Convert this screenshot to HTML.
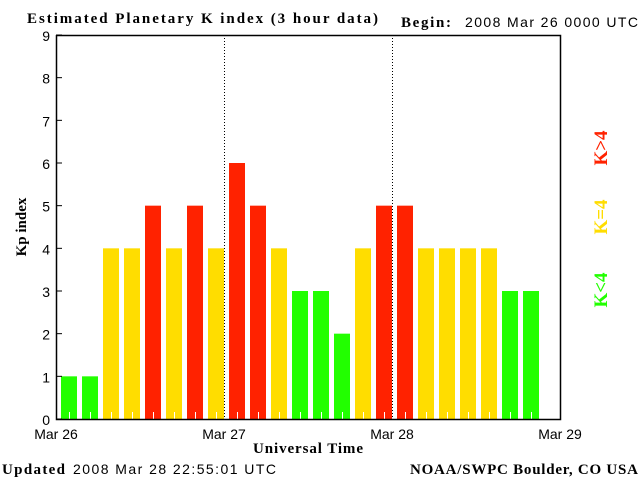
<!DOCTYPE html>
<html><head><meta charset="utf-8"><style>
body{margin:0;background:#fff;width:640px;height:480px;overflow:hidden}
svg{display:block}
.s{font-family:"Liberation Sans",sans-serif;font-size:14px;fill:#000}
.b{font-family:"Liberation Serif",serif;font-weight:bold;font-size:15px;fill:#000}
</style></head><body>
<svg id="c" width="640" height="480">
<text class="b" x="27" y="23" textLength="351" lengthAdjust="spacing">Estimated Planetary K index (3 hour data)</text>
<text class="b" x="401" y="27" textLength="50">Begin:</text>
<text class="s" x="465" y="27" textLength="173">2008 Mar 26 0000 UTC</text>
<text class="b" transform="translate(26,227) rotate(-90)" text-anchor="middle">Kp index</text>
<text class="b" x="253" y="453" textLength="110">Universal Time</text>
<text class="b" x="2" y="474" textLength="63">Updated</text>
<text class="s" x="73" y="474" textLength="203">2008 Mar 28 22:55:01 UTC</text>
<text class="b" x="410" y="474" textLength="228">NOAA/SWPC Boulder, CO USA</text>
<text class="b" transform="translate(607,148) rotate(-90)" text-anchor="middle" style="fill:#ff2200;font-size:19px">K&gt;4</text>
<text class="b" transform="translate(607,217) rotate(-90)" text-anchor="middle" style="fill:#ffdd00;font-size:19px">K=4</text>
<text class="b" transform="translate(607,290) rotate(-90)" text-anchor="middle" style="fill:#22ff00;font-size:19px">K&lt;4</text>
<g id="bars"></g>
<g id="axes"></g>
</svg>
<script>
const kpValues=[1,1,4,4,5,4,5,4,6,5,4,3,3,2,4,5,5,4,4,4,4,3,3];
const yTicks=[0,1,2,3,4,5,6,7,8,9];
const dayLabels=["Mar 26","Mar 27","Mar 28","Mar 29"];
const X0=56,X1=560,Y0=419,Y1=35,SLOTS=24;
const ns="http://www.w3.org/2000/svg";
function xs(i){return X0+(X1-X0)*i/SLOTS;}
function ys(v){return Y0-(Y0-Y1)*v/9;}
function mk(t,a,p){const e=document.createElementNS(ns,t);for(const k in a)e.setAttribute(k,a[k]);p.appendChild(e);return e;}
const bars=document.getElementById('bars'),axes=document.getElementById('axes');
kpValues.forEach((v,i)=>{
 const col=v<4?'#22ff00':(v===4?'#ffdd00':'#ff2200');
 const r=mk('rect',{x:xs(i)+5,y:ys(v),width:16,height:Y0-ys(v),fill:col},bars);
 
 
 const t=mk('line',{x1:xs(i)+13.5,x2:xs(i)+13.5,y1:Y0-7,y2:Y0,stroke:'#fff','stroke-width':1},bars);
 
 
});
[1,2].forEach(d=>{
 const l=mk('line',{x1:xs(d*8)+.5,x2:xs(d*8)+.5,y1:Y1,y2:Y0,stroke:'#000','stroke-dasharray':'1,2'},axes);
 
 
});
const fr=mk('path',{d:`M${X0+.5},${Y1}V${Y0+.5}H${X1+.5}V${Y1+.5}H${X0}`,fill:'none',stroke:'#000','stroke-width':1.5},axes);


yTicks.forEach(v=>{
 mk('line',{x1:X0,x2:X0+6,y1:ys(v),y2:ys(v),stroke:'#000'},axes);
 const t=mk('text',{x:X0-6,y:ys(v)+6,'text-anchor':'end','class':'s'},axes);
 t.textContent=v;
 
 
});
dayLabels.forEach((d,i)=>{
 const t=mk('text',{x:xs(i*8),y:439,'text-anchor':'middle','class':'s'},axes);
 t.textContent=d;
 
 
});
</script>
</body></html>
